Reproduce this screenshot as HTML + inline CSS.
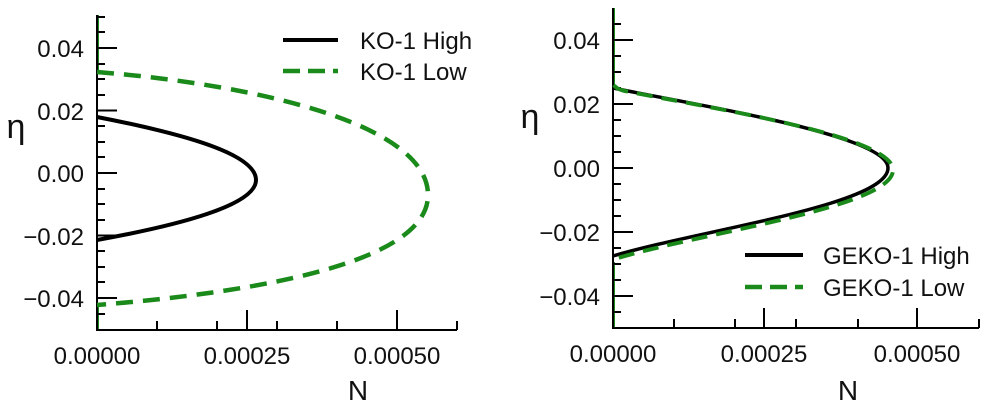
<!DOCTYPE html>
<html><head><meta charset="utf-8"><style>
html,body{margin:0;padding:0;background:#fff;}
svg{display:block;font-family:"Liberation Sans",sans-serif;}
</style></head><body>
<svg width="991" height="407" viewBox="0 0 991 407" xmlns="http://www.w3.org/2000/svg">
<!-- LEFT PLOT -->
<path d="M98,15 V72 M98,305 V330" stroke="#1a8a1a" stroke-width="2" fill="none"/>
<g stroke="#000" stroke-width="2" fill="none">
<path d="M97,15 V330 H457"/>
<path d="M97,48h20M97,110.5h20M97,173h20M97,235.5h20M97,298h20"/>
<path d="M97,17h8M97,32h8M97,64h8M97,79h8M97,95h8M97,126h8M97,142h8M97,157h8M97,189h8M97,204h8M97,220h8M97,251h8M97,267h8M97,282h8M97,314h8"/>
<path d="M247,330v-20M397,330v-20M157,330v-9M217,330v-9M277,330v-9M337,330v-9M457,330v-9"/>
</g>
<g font-size="24" fill="#111" text-anchor="end">
<text x="84" y="57">0.04</text><text x="84" y="120">0.02</text><text x="84" y="182">0.00</text>
<text x="84" y="245">−0.02</text><text x="84" y="307">−0.04</text>
</g>
<g font-size="24" fill="#111" text-anchor="middle">
<text x="97" y="364">0.00000</text><text x="247" y="364">0.00025</text><text x="397" y="364">0.00050</text>
<text x="358" y="400" font-size="28">N</text>
</g>
<text x="16" y="138" font-size="34" fill="#111" text-anchor="middle">η</text>
<path d="M97,72 C 260,85 428,125 428,195 C 428,262 260,292 97,305" stroke="#1a8a1a" stroke-width="4.5" fill="none" stroke-dasharray="17,10"/>
<path d="M97,117 C 190,135 256,155 256,180 C 256,205 180,225 97,240" stroke="#000" stroke-width="4" fill="none"/>
<line x1="283" y1="40" x2="338" y2="40" stroke="#000" stroke-width="4"/>
<line x1="283" y1="71" x2="338" y2="71" stroke="#1a8a1a" stroke-width="4.5" stroke-dasharray="17,8"/>
<text x="360" y="49" font-size="24" fill="#111">KO-1 High</text>
<text x="360" y="80" font-size="24" fill="#111">KO-1 Low</text>

<!-- RIGHT PLOT -->
<path d="M614,8 V85 M614,262 V328" stroke="#1a8a1a" stroke-width="2" fill="none"/>
<g stroke="#000" stroke-width="2" fill="none">
<path d="M613,8 V328 H979"/>
<path d="M613,40h20M613,104h20M613,168h20M613,232h20M613,296h20"/>
<path d="M613,24h8M613,56h8M613,72h8M613,88h8M613,120h8M613,136h8M613,152h8M613,184h8M613,200h8M613,216h8M613,248h8M613,264h8M613,280h8M613,312h8"/>
<path d="M764,328v-20M917,328v-20M674,328v-9M735,328v-9M796,328v-9M858,328v-9M979,328v-9"/>
</g>
<g font-size="24" fill="#111" text-anchor="end">
<text x="600" y="49">0.04</text><text x="600" y="113">0.02</text><text x="600" y="177">0.00</text>
<text x="600" y="241">−0.02</text><text x="600" y="305">−0.04</text>
</g>
<g font-size="24" fill="#111" text-anchor="middle">
<text x="613" y="362">0.00000</text><text x="764" y="362">0.00025</text><text x="917" y="362">0.00050</text>
<text x="848" y="400" font-size="28">N</text>
</g>
<text x="530" y="128" font-size="34" fill="#111" text-anchor="middle">η</text>
<path d="M613,88 C 700,106 888,135 888,168 C 888,205 700,230 613,256" stroke="#000" stroke-width="3.5" fill="none"/>
<path d="M614,85 Q616,89 625,91 C 710,108 893,136 893,170 C 893,207 705,232 618,258" stroke="#1a8a1a" stroke-width="4" fill="none" stroke-dasharray="16,9"/>
<line x1="745" y1="255" x2="803" y2="255" stroke="#000" stroke-width="4"/>
<line x1="745" y1="287" x2="803" y2="287" stroke="#1a8a1a" stroke-width="4.5" stroke-dasharray="17,8"/>
<text x="823" y="264" font-size="24" fill="#111">GEKO-1 High</text>
<text x="823" y="296" font-size="24" fill="#111">GEKO-1 Low</text>
</svg>
</body></html>
